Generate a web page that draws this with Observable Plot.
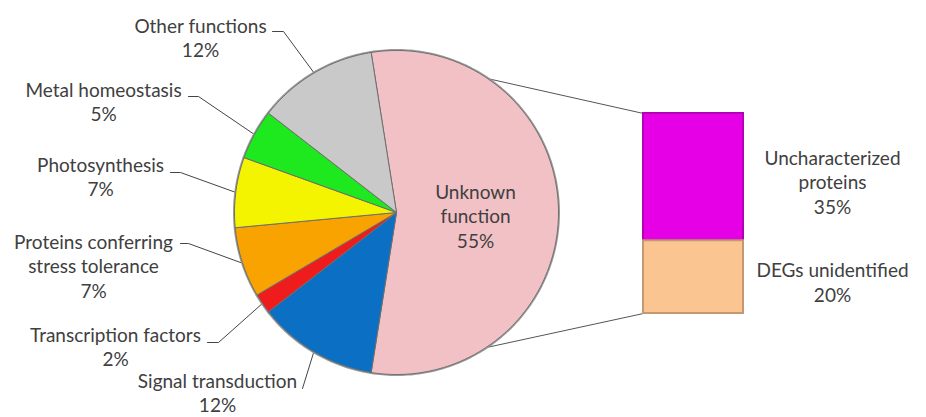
<!DOCTYPE html>
<html><head><meta charset="utf-8">
<script src="https://cdn.jsdelivr.net/npm/d3@7"></script>
<script src="https://cdn.jsdelivr.net/npm/@observablehq/plot@0.6"></script>
<style>body{margin:0;background:#fff} svg{display:block}</style>
</head><body><div id="chart"></div>
<script>
// ---- data ----
const categories = ["Unknown function","Signal transduction","Transcription factors","Proteins conferring stress tolerance","Photosynthesis","Metal homeostasis","Other functions"];
const values = [55, 12, 2, 7, 7, 5, 12];
const sliceColors = ["#f2c1c5","#0b70c4","#ee1c1c","#f8a300","#f4f400","#1ee81e","#c9c9c9"];
const barCategories = ["Uncharacterized proteins","DEGs unidentified"];
const barValues = [35, 20];
const barColors = ["#e600e6","#fbc592"];
const sliceLabelText = ["Unknown\nfunction","Signal transduction","Transcription factors","Proteins conferring\nstress tolerance","Photosynthesis","Metal homeostasis","Other functions"];
const barLabelText = ["Uncharacterized\nproteins","DEGs unidentified"];

// ---- layout ----
const W = 926, H = 417;
const cx = 396, cy = 212, R = 162;
const barX1 = 643, barX2 = 743, barTop = 113, barH = 200;
const labelPos = [ // text block centre
  [475, 215], [217, 391.5], [115, 345.5], [93, 265], [100, 175.5], [103, 100.5], [200, 37]
];
const leaderStart = [
  null, [[302, 388]], [[207, 342],[218, 342]], [[180, 243],[188, 243]],
  [[170, 172],[180, 172]], [[188, 96],[198, 96]], [[272, 31],[283, 31]]
];
const barLabelPos = [[832, 181], [832, 281]];

// ---- geometry from values ----
const rad = Math.PI / 180;
const total = d3.sum(values);
const first = values[0] / total * 360;
const startAngle = (90 - first / 2) * rad;
const pie = d3.pie().sort(null).startAngle(startAngle).endAngle(startAngle + 2 * Math.PI)(values);
const pt = (a, r) => [cx + r * Math.sin(a), cy - r * Math.cos(a)];

const slicePts = [];
pie.forEach((p, i) => {
  const n = Math.max(2, Math.ceil((p.endAngle - p.startAngle) / rad));
  slicePts.push({name: categories[i], x: cx, y: cy});
  for (let k = 0; k <= n; k++) {
    const a = p.startAngle + (p.endAngle - p.startAngle) * k / n;
    const [x, y] = pt(a, R);
    slicePts.push({name: categories[i], x, y});
  }
  slicePts.push({name: categories[i], x: cx, y: cy});
});

const leaders = [];
pie.forEach((p, i) => {
  if (!leaderStart[i]) return;
  const mid = (p.startAngle + p.endAngle) / 2;
  const [ex, ey] = pt(mid, R + 1);
  leaderStart[i].forEach(([x, y]) => leaders.push({name: categories[i], x, y}));
  leaders.push({name: categories[i], x: ex, y: ey});
});

const barScale = barH / d3.sum(barValues);
let acc = 0;
const bars = barValues.map((v, i) => {
  const d = {name: barCategories[i], y1: barTop + acc * barScale, y2: barTop + (acc + v) * barScale, color: barColors[i]};
  acc += v;
  return d;
});

const pinkStart = pt(pie[0].startAngle, R), pinkEnd = pt(pie[0].endAngle, R);
const connectors = [
  {k: 0, x: pinkStart[0], y: pinkStart[1]}, {k: 0, x: barX1, y: bars[0].y1},
  {k: 1, x: pinkEnd[0], y: pinkEnd[1]}, {k: 1, x: barX1, y: bars[bars.length - 1].y2}
];

const sliceLabels = categories.map((c, i) => ({
  text: sliceLabelText[i] + "\n" + values[i] + "%", x: labelPos[i][0], y: labelPos[i][1]
}));
const barLabels = barCategories.map((c, i) => ({
  text: barLabelText[i] + "\n" + barValues[i] + "%", x: barLabelPos[i][0], y: barLabelPos[i][1]
}));

const darker = c => d3.color(c).darker(0.7).formatHex();

const chart = Plot.plot({
  width: W, height: H,
  margin: 0,
  x: {domain: [0, W], range: [0, W], axis: null},
  y: {domain: [0, H], range: [0, H], axis: null},
  color: {domain: categories, range: sliceColors},
  style: {fontFamily: "Lato, 'Open Sans', sans-serif", background: "#fff"},
  marks: [
    Plot.line(connectors, {x: "x", y: "y", z: "k", stroke: "#555", strokeWidth: 1}),
    Plot.line(leaders, {x: "x", y: "y", z: "name", stroke: "#444", strokeWidth: 1}),
    Plot.line(slicePts, {x: "x", y: "y", z: "name", fill: "name", stroke: "#9a9a9a", strokeWidth: 3, strokeLinejoin: "round"}),
    Plot.line(slicePts, {x: "x", y: "y", z: "name", fill: "name", stroke: "#6f6f6f", strokeWidth: 1, strokeLinejoin: "round"}),
    Plot.rect(bars, {x1: barX1, x2: barX2, y1: "y1", y2: "y2", fill: "color", stroke: d => darker(d.color), strokeWidth: 2}),
    Plot.text(sliceLabels, {x: "x", y: "y", text: "text", fontSize: 19, lineHeight: 1.28, fill: "#404040"}),
    Plot.text(barLabels, {x: "x", y: "y", text: "text", fontSize: 19, lineHeight: 1.3, fill: "#404040"})
  ]
});
document.getElementById("chart").append(chart);
</script>
</body></html>
